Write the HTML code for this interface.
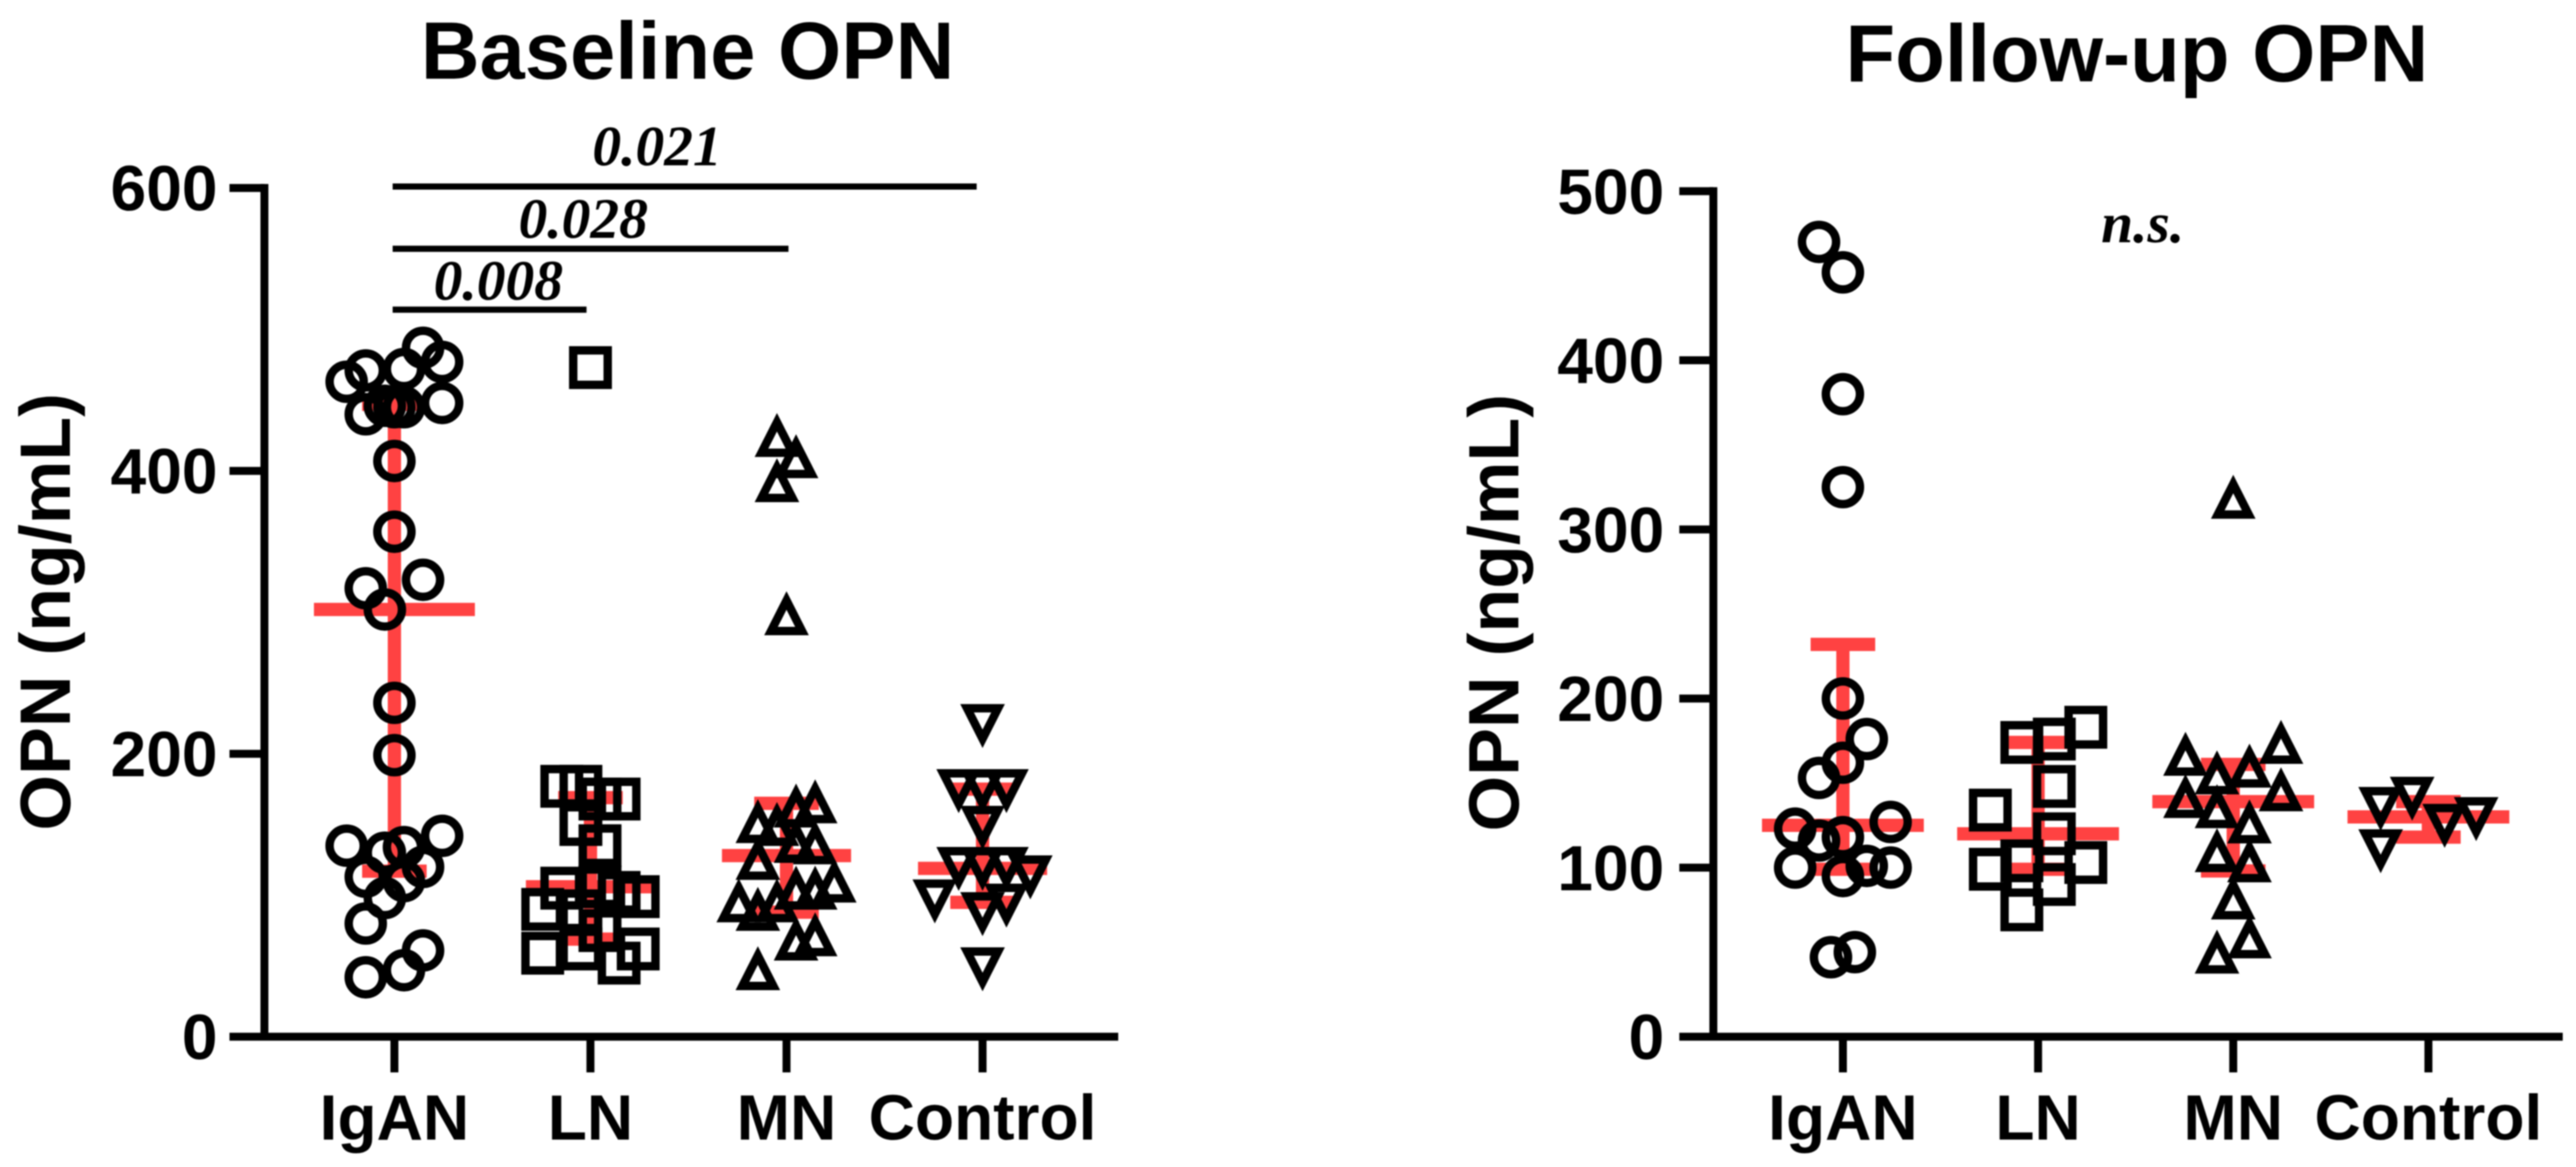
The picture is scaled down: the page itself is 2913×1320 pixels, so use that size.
<!DOCTYPE html>
<html lang="en">
<head>
<meta charset="utf-8">
<title>Baseline and Follow-up OPN</title>
<style>
html,body{margin:0;padding:0;background:#fff;width:2913px;height:1320px;overflow:hidden}
svg{display:block;filter:blur(0.7px)}
text{fill:#000;font-family:"Liberation Sans",Arial,sans-serif;font-weight:700}
.big{font-size:92px}
.tick{font-size:72.5px}
.ytitle{font-size:81px}
.p{font-family:"Liberation Serif","Times New Roman",serif;font-style:italic;font-size:65px}
</style>
</head>
<body>
<svg xmlns="http://www.w3.org/2000/svg" width="2913" height="1320" viewBox="0 0 2913 1320">
  <rect x="0" y="0" width="2913" height="1320" fill="#fff"/>

  <g id="panel-baseline">
    <text class="big" x="777.5" y="89" text-anchor="middle">Baseline OPN</text>
    <text class="ytitle" x="79" y="692" text-anchor="middle" transform="rotate(-90 79 692)">OPN (ng/mL)</text>
    <g id="baseline-errors"></g>
    <g id="baseline-igan"></g>
    <g id="baseline-ln"></g>
    <g id="baseline-mn"></g>
    <g id="baseline-control"></g>
    <g id="baseline-axes"></g>
    <g id="baseline-brackets"></g>
    <text class="p" x="563.5" y="339" text-anchor="middle">0.008</text>
    <text class="p" x="659.5" y="269" text-anchor="middle">0.028</text>
    <text class="p" x="743" y="187" text-anchor="middle">0.021</text>
  </g>

  <g id="panel-followup">
    <text class="big" x="2416.5" y="92" text-anchor="middle">Follow-up OPN</text>
    <text class="ytitle" x="1717" y="693" text-anchor="middle" transform="rotate(-90 1717 693)">OPN (ng/mL)</text>
    <g id="followup-errors"></g>
    <g id="followup-igan"></g>
    <g id="followup-ln"></g>
    <g id="followup-mn"></g>
    <g id="followup-control"></g>
    <g id="followup-axes"></g>
    <text class="p" x="2423" y="274" text-anchor="middle">n.s.</text>
  </g>
</svg>

<script>
const categories = ['IgAN', 'LN', 'MN', 'Control'];
const baselineTicks = [0, 200, 400, 600];
const followupTicks = [0, 100, 200, 300, 400, 500];

const baselineIgANValues = [487, 477, 472, 471, 463, 448, 446, 445, 445, 440, 407, 357, 323, 317, 302, 236, 199, 142, 135, 134, 130, 120, 113, 110, 98, 80, 61, 47, 42];
const baselineIgANSlots = [3, 5, 1, -3, -5, 5, -1, 1, 0, -3, 0, 0, 3, -3, -1, 0, 0, 5, -5, 1, -1, 3, -3, 1, -1, -3, 3, 1, -3];

const baselineLNValues = [473, 177, 177, 168, 168, 150, 135, 106, 105, 102, 99, 90, 89, 75, 62, 62, 59, 52];
const baselineLNSlots = [0, -3, -1, 1, 3, -1, 1, 1, -3, 3, 5, -5, -1, 1, 5, -1, -5, 3];

const baselineMNValues = [425, 410, 393, 299, 166, 163, 152, 150, 138, 137, 126, 110, 105, 105, 96, 96, 90, 72, 69, 48];
const baselineMNSlots = [-1, 1, -1, 0, 3, 1, -3, -1, 1, 3, -3, 5, 1, 3, -5, -1, -3, 3, 1, -3];

const baselineControlValues = [220, 174, 174, 174, 148, 119, 119, 119, 113, 96, 93, 87, 48];
const baselineControlSlots = [0, -2.5, 0, 2.5, 0, -2.5, 0, 2.5, 5, -5, 2.5, 0, 0];

const followupIgANValues = [470, 452, 380, 325, 200, 176, 162, 153, 127, 123, 118, 116, 101, 100, 100, 95, 50, 47];
const followupIgANSlots = [-2.5, 0, 0, 0, 0, 2.5, 0, -2.5, 5, -5, 0, -2.5, 2.5, -5, 5, 0, 1.25, -1.25];

const followupLNValues = [183, 176, 174, 148, 134, 120, 104, 103, 99, 90, 75];
const followupLNSlots = [5, 1.7, -1.7, 1.7, -5, 1.7, -1.7, 5, -5, 1.7, -1.7];

const followupMNValues = [319, 174, 167, 160, 156, 146, 142, 136, 127, 110, 104, 82, 59, 50];
const followupMNSlots = [0, 5, -5, 1.7, -1.7, 5, -5, -1.7, 1.7, -1.7, 1.7, 0, 1.7, -1.7];

const followupControlValues = [141, 135, 129, 125, 110];
const followupControlSlots = [-1.7, -5, 5, 1.7, -5];

const baselineMedians = [302, 106, 128, 119];
const baselineUpper = [447, 169, 165, 175];
const baselineLower = [117, 69, 88, 95];

const followupMedians = [125, 120, 139, 130];
const followupUpper = [232, 174, 161, 139];
const followupLower = [99, 99, 98, 118];

const bracketEndCategory = [0.98, 2.01, 2.97];
const bracketLevels = [514, 557, 601];

const SVGNS = 'http://www.w3.org/2000/svg';
const RED = '#ff4242';
const Y_ZERO = 1172.6;
const SLOT = 10.8;

function makeLine(parent, x1, y1, x2, y2, color, width) {
  const el = document.createElementNS(SVGNS, 'line');
  el.setAttribute('x1', x1);
  el.setAttribute('y1', y1);
  el.setAttribute('x2', x2);
  el.setAttribute('y2', y2);
  el.setAttribute('stroke', color);
  el.setAttribute('stroke-width', width);
  parent.appendChild(el);
  return el;
}

function makeText(parent, x, y, anchor, str) {
  const el = document.createElementNS(SVGNS, 'text');
  el.setAttribute('class', 'tick');
  el.setAttribute('x', x);
  el.setAttribute('y', y);
  el.setAttribute('text-anchor', anchor);
  el.textContent = str;
  parent.appendChild(el);
  return el;
}

function makeMarker(parent, shape, cx, cy) {
  let el;
  if (shape === 'circle') {
    el = document.createElementNS(SVGNS, 'circle');
    el.setAttribute('cx', cx);
    el.setAttribute('cy', cy);
    el.setAttribute('r', 19.3);
  } else if (shape === 'square') {
    el = document.createElementNS(SVGNS, 'rect');
    el.setAttribute('x', cx - 19.5);
    el.setAttribute('y', cy - 19.5);
    el.setAttribute('width', 39);
    el.setAttribute('height', 39);
  } else {
    const s = shape === 'up' ? 1 : -1;
    el = document.createElementNS(SVGNS, 'polygon');
    el.setAttribute('points', cx + ',' + (cy - 15 * s) + ' ' + (cx + 17.5) + ',' + (cy + 19.5 * s) + ' ' + (cx - 17.5) + ',' + (cy + 19.5 * s));
  }
  el.setAttribute('fill', 'none');
  el.setAttribute('stroke', '#000');
  el.setAttribute('stroke-width', 9.5);
  el.setAttribute('stroke-miterlimit', 6);
  parent.appendChild(el);
  return el;
}

/* ---------- baseline panel scales ---------- */
const baselineY = function (v) { return Y_ZERO - v * 1.6; };
const baselineX = function (i) { return 446 + 221.7 * i; };
/* ---------- follow-up panel scales ---------- */
const followupY = function (v) { return Y_ZERO - v * 1.9126; };
const followupX = function (i) { return 2084 + 220.7 * i; };

function drawAxes(parent, xScale, yScale, ticks, axisX, tickLeft, axisRight, labelRight) {
  const topY = yScale(ticks[ticks.length - 1]);
  const yAxis = makeLine(parent, axisX, topY - 4.5, axisX, Y_ZERO, '#000', 9);
  
  
  const xAxis = makeLine(parent, tickLeft, Y_ZERO, axisRight, Y_ZERO, '#000', 9);
  
  
  ticks.forEach(function (t) {
    const y = yScale(t);
    if (t !== 0) {
      const tm = makeLine(parent, tickLeft, y, axisX, y, '#000', 9);
      
      
    }
    const lab = makeText(parent, labelRight, y + 25.5, 'end', String(t));
    
    
  });
  categories.forEach(function (c, i) {
    const x = xScale(i);
    const tm = makeLine(parent, x, Y_ZERO, x, 1213, '#000', 9);
    
    
    const lab = makeText(parent, x, 1289, 'middle', c);
    
    
  });
}

function drawErrors(parent, xScale, yScale, medians, upper, lower, halfWidthFor) {
  medians.forEach(function (m, i) {
    const x = xScale(i);
    const stem = makeLine(parent, x, yScale(upper[i]), x, yScale(lower[i]), RED, 15);
    
    
    const capTop = makeLine(parent, x - 36.5, yScale(upper[i]), x + 36.5, yScale(upper[i]), RED, 15);
    
    
    const capBottom = makeLine(parent, x - 36.5, yScale(lower[i]), x + 36.5, yScale(lower[i]), RED, 15);
    
    
    const hw = halfWidthFor(i);
    const med = makeLine(parent, x - hw, yScale(m), x + hw, yScale(m), RED, 15);
    
    
  });
}

function drawPoints(groupId, shape, catIndex, values, slots, xScale, yScale) {
  const parent = document.getElementById(groupId);
  values.forEach(function (v, k) {
    const el = makeMarker(parent, shape, xScale(catIndex) + slots[k] * SLOT, yScale(v));
    
    
  });
}

drawErrors(document.getElementById('baseline-errors'), baselineX, baselineY, baselineMedians, baselineUpper, baselineLower, function (i) { return i === 0 ? 91 : 73; });
drawPoints('baseline-igan', 'circle', 0, baselineIgANValues, baselineIgANSlots, baselineX, baselineY);
drawPoints('baseline-ln', 'square', 1, baselineLNValues, baselineLNSlots, baselineX, baselineY);
drawPoints('baseline-mn', 'up', 2, baselineMNValues, baselineMNSlots, baselineX, baselineY);
drawPoints('baseline-control', 'down', 3, baselineControlValues, baselineControlSlots, baselineX, baselineY);
drawAxes(document.getElementById('baseline-axes'), baselineX, baselineY, baselineTicks, 299, 259.5, 1264.5, 246);

bracketLevels.forEach(function (level, i) {
  const parent = document.getElementById('baseline-brackets');
  const y = baselineY(level);
  const br = makeLine(parent, baselineX(0) - 2, y, baselineX(bracketEndCategory[i]), y, '#000', 7);
  
  
});

drawErrors(document.getElementById('followup-errors'), followupX, followupY, followupMedians, followupUpper, followupLower, function () { return 91.5; });
drawPoints('followup-igan', 'circle', 0, followupIgANValues, followupIgANSlots, followupX, followupY);
drawPoints('followup-ln', 'square', 1, followupLNValues, followupLNSlots, followupX, followupY);
drawPoints('followup-mn', 'up', 2, followupMNValues, followupMNSlots, followupX, followupY);
drawPoints('followup-control', 'down', 3, followupControlValues, followupControlSlots, followupX, followupY);
drawAxes(document.getElementById('followup-axes'), followupX, followupY, followupTicks, 1937.5, 1899, 2898, 1882);
</script>
</body>
</html>
